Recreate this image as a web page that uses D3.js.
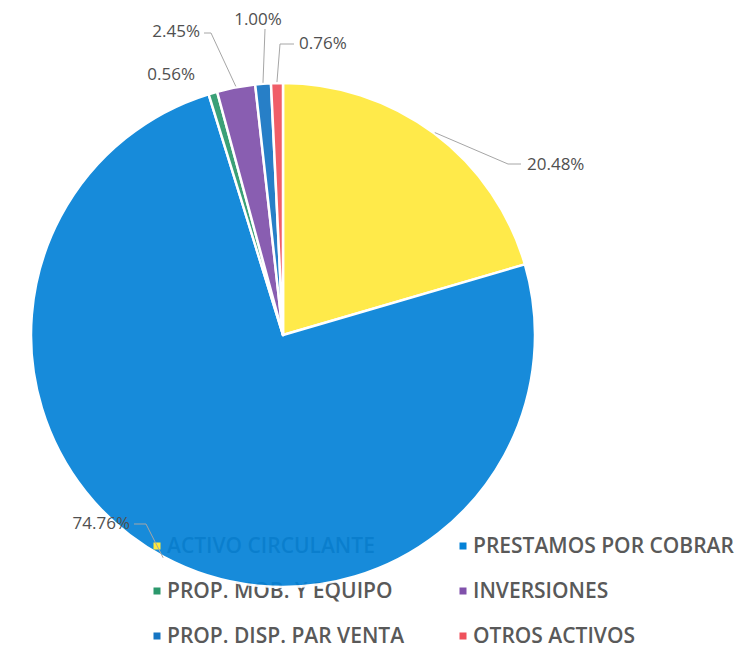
<!DOCTYPE html>
<html>
<head>
<meta charset="utf-8">
<script src="https://cdn.jsdelivr.net/npm/d3@7"></script>
<style>
  html, body { margin: 0; padding: 0; background: #ffffff; }
  svg { display: block; }
</style>
</head>
<body>
<div id="chart"></div>
<script>
// ---- data ----
const categories = [
  "ACTIVO CIRCULANTE",
  "PRESTAMOS POR COBRAR",
  "PROP. MOB. Y EQUIPO",
  "INVERSIONES",
  "PROP. DISP. PAR VENTA",
  "OTROS ACTIVOS"
];
const values = [20.48, 74.76, 0.56, 2.45, 1.00, 0.76];
const valueLabels = ["20.48%", "74.76%", "0.56%", "2.45%", "1.00%", "0.76%"];
const sliceColors = ["#ffe93b", "#0482d7", "#2b986c", "#8051ab", "#1575c3", "#ef515c"];

// ---- layout (not data) ----
const W = 739, H = 649;
const cx = 283, cy = 335, R = 252;
const labelLayout = [
  { x: 527, y: 164, anchor: "start", bend: [[508, 164], [521, 164]] },
  { x: 130, y: 523, anchor: "end",   bend: [[146, 524], [134, 524]] },
  { x: 195, y: 74,  anchor: "end",   bend: null },
  { x: 200, y: 31,  anchor: "end",   bend: [[211, 33], [204, 33]] },
  { x: 258, y: 19,  anchor: "middle", bend: [[265, 29]] },
  { x: 299, y: 43,  anchor: "start", bend: [[280, 44], [294, 44]] }
];
const legendLayout = { col: [157, 463], textDx: 10, rowY: [546, 591, 636], marker: 7 };
const legendPos = (i) => [legendLayout.col[i % 2], legendLayout.rowY[Math.floor(i / 2)]];

const svg = d3.select("#chart").append("svg")
  .attr("width", W).attr("height", H);

// ---- legend text (drawn first; the pie overlaps it) ----
svg.append("g").attr("class", "legend-text")
  .selectAll("text")
  .data(categories)
  .join("text")
  .attr("x", (d, i) => legendPos(i)[0] + legendLayout.textDx)
  .attr("y", (d, i) => legendPos(i)[1])
  .attr("dy", "0.35em")
  .attr("font-family", "'Open Sans', sans-serif")
  .attr("font-weight", 600)
  .attr("font-size", 21)
  .attr("fill", "#595959")
  .text(d => d);

// ---- pie ----
const pie = d3.pie().sort(null).value(d => d);
const arcs = pie(values);
const arc = d3.arc().innerRadius(0).outerRadius(R);

const pieG = svg.append("g")
  .attr("transform", `translate(${cx},${cy})`)
  .attr("opacity", 0.92);
pieG.selectAll("path")
  .data(arcs)
  .join("path")
  .attr("d", arc)
  .attr("fill", (d, i) => sliceColors[i])
  .attr("stroke", "#ffffff")
  .attr("stroke-width", 2.5)
  .attr("stroke-linejoin", "round");

// ---- legend markers (on top) ----
svg.append("g").attr("class", "legend-markers")
  .selectAll("rect")
  .data(categories)
  .join("rect")
  .attr("x", (d, i) => legendPos(i)[0] - legendLayout.marker / 2)
  .attr("y", (d, i) => legendPos(i)[1] - legendLayout.marker / 2)
  .attr("width", legendLayout.marker)
  .attr("height", legendLayout.marker)
  .attr("fill", (d, i) => sliceColors[i]);

// ---- leader lines ----
svg.append("g").selectAll("path")
  .data(arcs.filter((d, i) => labelLayout[i].bend))
  .join("path")
  .attr("d", d => {
    const L = labelLayout[d.index];
    const a = (d.startAngle + d.endAngle) / 2;
    const ex = cx + (R + 1) * Math.sin(a), ey = cy - (R + 1) * Math.cos(a);
    return d3.line()([[ex, ey]].concat(L.bend));
  })
  .attr("fill", "none")
  .attr("stroke", "#a6a6a6")
  .attr("stroke-width", 1);

// ---- data labels ----
svg.append("g").selectAll("text")
  .data(arcs)
  .join("text")
  .attr("x", (d, i) => labelLayout[i].x)
  .attr("y", (d, i) => labelLayout[i].y)
  .attr("dy", "0.35em")
  .attr("text-anchor", (d, i) => labelLayout[i].anchor)
  .attr("font-family", "'Open Sans', sans-serif")
  .attr("font-size", 17)
  .attr("fill", "#505050")
  .text((d, i) => valueLabels[i]);
</script>
</body>
</html>
